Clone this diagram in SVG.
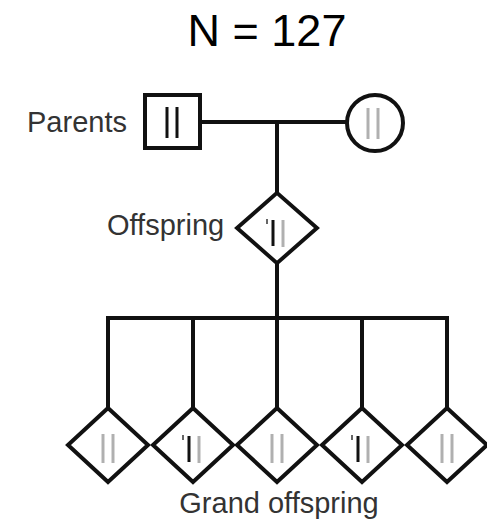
<svg xmlns="http://www.w3.org/2000/svg" width="487" height="526" viewBox="0 0 487 526">
  <style>
    .title { font-family: "Liberation Sans", Arial, sans-serif; font-size: 45px; fill: #000; }
    .label { font-family: "Liberation Sans", Arial, sans-serif; font-size: 29px; fill: #333; }
    .shape { fill: #fff; stroke: #111; stroke-width: 4; }
    .link { fill: none; stroke: #111; stroke-width: 4; }
    .bar-dark { stroke: #111; stroke-width: 3; }
    .bar-light { stroke: #b0b0b0; stroke-width: 3; }
  </style>
  <defs>
    <path id="diamond" d="M0,-37 L40,0 L0,37 L-40,0 Z"/>
    <!-- genotype: two light alleles -->
    <g id="gt-light">
      <line class="bar-light" x1="-5" y1="-13" x2="-5" y2="16"/>
      <line class="bar-light" x1="5" y1="-13" x2="5" y2="16"/>
    </g>
    <!-- genotype: one dark (marked) and one light allele -->
    <g id="gt-mixed">
      <line class="bar-dark" x1="-4" y1="-11" x2="-4" y2="15"/>
      <line class="bar-light" x1="6" y1="-11" x2="6" y2="16"/>
      <line stroke="#666" stroke-width="2" x1="-10" y1="-12" x2="-10" y2="-7"/>
    </g>
  </defs>

  <text class="title" x="267" y="46" text-anchor="middle">N = 127</text>

  <g id="connectors">
    <line class="link" x1="200" y1="122" x2="347" y2="122"/>
    <line class="link" x1="277" y1="122" x2="277" y2="193"/>
    <line class="link" x1="277" y1="263" x2="277" y2="318"/>
    <line class="link" x1="106" y1="318" x2="449" y2="318"/>
    <line class="link" x1="108" y1="316" x2="108" y2="408"/>
    <line class="link" x1="193" y1="318" x2="193" y2="408"/>
    <line class="link" x1="277" y1="318" x2="277" y2="408"/>
    <line class="link" x1="362" y1="318" x2="362" y2="408"/>
    <line class="link" x1="447" y1="316" x2="447" y2="408"/>
  </g>

  <g id="father">
    <rect class="shape" x="145" y="95" width="55" height="53" stroke-width="4.5"/>
    <line class="bar-dark" x1="167" y1="107" x2="167" y2="138" stroke-width="3.5"/>
    <line class="bar-dark" x1="177" y1="107" x2="177" y2="138" stroke-width="3.5"/>
    <text class="label" x="27" y="132">Parents</text>
  </g>

  <g id="mother">
    <circle class="shape" cx="375" cy="123" r="28"/>
    <line class="bar-light" x1="368" y1="108" x2="368" y2="139"/>
    <line class="bar-light" x1="378" y1="108" x2="378" y2="139"/>
  </g>

  <g id="offspring">
    <use href="#diamond" class="shape" x="277" y="228" transform="translate(277 228) scale(1 0.95) translate(-277 -228)"/>
    <use href="#gt-mixed" x="277" y="231"/>
    <text class="label" x="107" y="235">Offspring</text>
  </g>

  <g id="grand-1">
    <use href="#diamond" class="shape" x="108" y="445"/>
    <use href="#gt-light" x="108" y="447"/>
  </g>
  <g id="grand-2">
    <use href="#diamond" class="shape" x="193" y="445"/>
    <use href="#gt-mixed" x="193" y="447"/>
  </g>
  <g id="grand-3">
    <use href="#diamond" class="shape" x="277" y="445"/>
    <use href="#gt-light" x="277" y="447"/>
  </g>
  <g id="grand-4">
    <use href="#diamond" class="shape" x="362" y="445"/>
    <use href="#gt-mixed" x="362" y="447"/>
  </g>
  <g id="grand-5">
    <use href="#diamond" class="shape" x="447" y="445"/>
    <use href="#gt-light" x="447" y="447"/>
  </g>

  <text class="label" x="279" y="513" text-anchor="middle">Grand offspring</text>
</svg>
